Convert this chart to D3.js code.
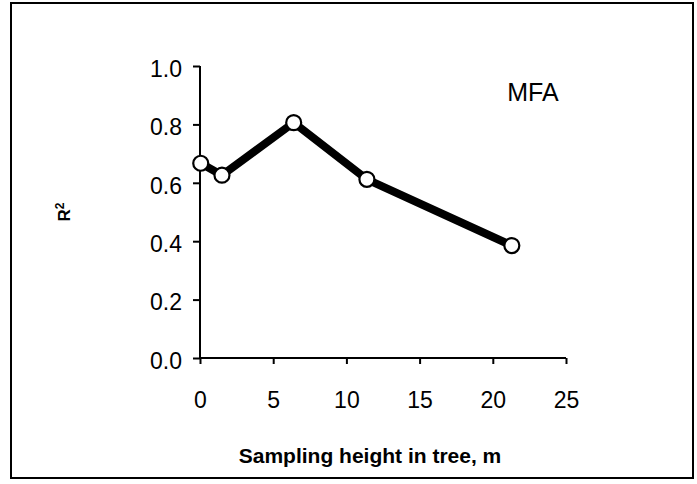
<!DOCTYPE html>
<html><head><meta charset="utf-8">
<script src="https://cdn.jsdelivr.net/npm/d3@7"></script>
<style>body{margin:0;background:#fff}svg{display:block}</style>
</head><body>
<script>
const heights = [0.05, 1.5, 6.4, 11.4, 21.3];
const r2 = [0.667, 0.626, 0.806, 0.612, 0.385];
const xTicks = [0, 5, 10, 15, 20, 25];
const yTicks = [0.0, 0.2, 0.4, 0.6, 0.8, 1.0];
const seriesLabel = "MFA";
const xTitle = "Sampling height in tree, m";
const yTitleMain = "R";
const yTitleSup = "2";

const W = 697, H = 484;
const svg = d3.select("body").append("svg").attr("width", W).attr("height", H);
svg.append("rect").attr("x", 11).attr("y", 3).attr("width", 682).attr("height", 475)
  .attr("fill", "none").attr("stroke", "#000").attr("stroke-width", 2);

const x = d3.scaleLinear().domain([0, 25]).range([200, 566]);
const y = d3.scaleLinear().domain([0, 1]).range([358, 66]);
const font = "Arial, 'Liberation Sans', sans-serif";

const xa = svg.append("g").attr("transform", "translate(0,358)")
  .call(d3.axisBottom(x).tickValues(xTicks).tickFormat(d3.format("d")).tickSize(6).tickPadding(28));
const ya = svg.append("g").attr("transform", "translate(200,0)")
  .call(d3.axisLeft(y).tickValues(yTicks).tickFormat(d3.format(".1f")).tickSize(7).tickPadding(11));
[xa, ya].forEach(a => {
  a.select(".domain").attr("stroke", "#000").attr("stroke-width", 2);
  a.selectAll(".tick line").attr("stroke", "#000").attr("stroke-width", 2);
  a.selectAll(".tick text").attr("fill", "#000").style("font-family", font).style("font-size", "23px");
});
ya.selectAll(".tick text").attr("dy", "0.45em");
xa.select(".domain").attr("d", `M${x(0)},0H${x(25)}`);
ya.select(".domain").attr("d", `M0,${y(1)}V${y(0)}`);

const pts = heights.map((h, i) => [h, r2[i]]);
svg.append("path").datum(pts)
  .attr("d", d3.line().x(d => x(d[0])).y(d => y(d[1])))
  .attr("fill", "none").attr("stroke", "#000").attr("stroke-width", 8).attr("stroke-linejoin", "round");
svg.selectAll("circle.pt").data(pts).join("circle").attr("class", "pt")
  .attr("cx", d => x(d[0])).attr("cy", d => y(d[1])).attr("r", 7.5)
  .attr("fill", "#fff").attr("stroke", "#000").attr("stroke-width", 2.2);

svg.append("text").attr("x", 533).attr("y", 101).attr("text-anchor", "middle")
  .style("font-family", font).style("font-size", "25px").text(seriesLabel);
svg.append("text").attr("x", 370).attr("y", 463).attr("text-anchor", "middle")
  .style("font-family", font).style("font-size", "21px").style("font-weight", "bold").text(xTitle);
const yt = svg.append("text").attr("transform", "translate(70,212) rotate(-90)").attr("text-anchor", "middle")
  .style("font-family", font).style("font-size", "17px").style("font-weight", "bold");
yt.append("tspan").text(yTitleMain);
yt.append("tspan").attr("dy", -6).style("font-size", "12px").text(yTitleSup);
</script>
</body></html>
